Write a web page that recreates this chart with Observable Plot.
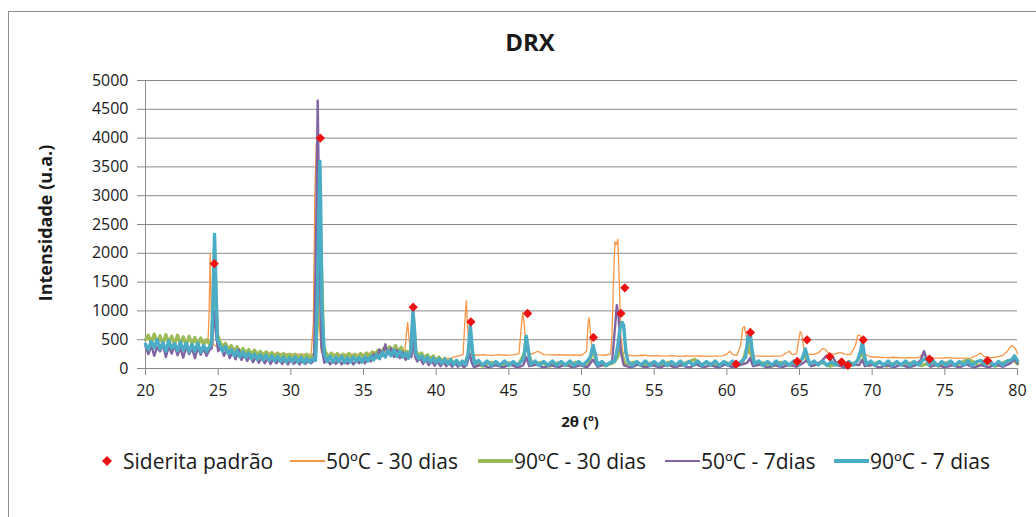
<!DOCTYPE html>
<html>
<head>
<meta charset="utf-8">
<script src="https://cdn.jsdelivr.net/npm/d3@7"></script>
<script src="https://cdn.jsdelivr.net/npm/@observablehq/plot@0.6"></script>
<style>
  body { margin: 0; background: #fff; font-family: "Open Sans", sans-serif; color: #1a1a1a; }
  #wrap { position: relative; width: 1036px; height: 517px; overflow: hidden; background: #fff; }
  #frame { position: absolute; left: 8px; top: 11px; width: 1100px; height: 600px; border: 1px solid #8c8c8c; box-sizing: border-box; }
  #chart { position: absolute; left: 0; top: 0; }
  #title { position: absolute; left: 0; width: 1060px; top: 27px; text-align: center; font-weight: bold; font-size: 24px; line-height: 30px; }
  #ylabel { position: absolute; left: 45px; top: 223px; transform: translate(-50%, -50%) rotate(-90deg); font-weight: bold; font-size: 18px; white-space: nowrap; }
  #xlabel { position: absolute; left: 580px; top: 421px; transform: translate(-50%, -50%); font-weight: bold; font-size: 15px; white-space: nowrap; }
  .li { position: absolute; top: 461px; transform: translateY(-50%); display: flex; align-items: center; font-size: 21px; white-space: nowrap; color: #1a1a1a; }
  .sw { display: inline-block; width: 35px; margin-right: 1px; }
</style>
</head>
<body>
<div id="wrap">
  <div id="frame"></div>
  <div id="chart"></div>
  <div id="title">DRX</div>
  <div id="ylabel">Intensidade (u.a.)</div>
  <div id="xlabel">2θ (º)</div>
  <div id="legend"></div>
</div>
<script>
// ---- Data ----
const xTicks = [20, 25, 30, 35, 40, 45, 50, 55, 60, 65, 70, 75, 80];
const yTicks = [0, 500, 1000, 1500, 2000, 2500, 3000, 3500, 4000, 4500, 5000];

const seriesNames = ["Siderita padrão", "50ºC - 30 dias", "90ºC - 30 dias", "50ºC - 7dias", "90ºC - 7 dias"];

// Siderita padrão (reference peaks) [2θ, intensity]
const siderita = [[24.73,1820],[32.03,4000],[38.42,1065],[42.39,810],[46.29,955],[50.82,540],[52.71,957],[52.98,1400],[60.64,76],[61.62,626],[64.84,122],[65.52,497],[67.08,206],[67.9,113],[68.33,55],[69.39,497],[73.95,164],[77.93,134]];

// 50ºC - 30 dias
const s50_30 = [[20.0,500],[20.5,540],[21.0,480],[21.5,530],[22.0,500],[22.5,470],[23.0,520],[23.5,460],[24.0,480],[24.3,470],[24.38,1000],[24.45,2000],[24.52,1000],[24.6,550],[24.7,400],[25.0,380],[25.5,350],[26.0,320],[26.5,300],[27.0,290],[27.5,280],[28.0,270],[28.5,265],[29.0,260],[29.5,255],[30.0,250],[30.5,250],[31.0,245],[31.4,250],[31.55,800],[31.65,3000],[31.75,3900],[31.85,3000],[31.95,800],[32.1,280],[32.5,240],[33.0,250],[33.5,240],[34.0,250],[34.5,245],[35.0,255],[35.5,270],[36.0,300],[36.5,330],[37.0,340],[37.5,320],[37.85,300],[37.95,600],[38.04,800],[38.12,550],[38.25,280],[38.5,260],[39.0,230],[39.5,200],[40.0,180],[40.5,160],[41.0,180],[41.5,220],[41.85,240],[41.95,700],[42.07,1180],[42.17,700],[42.3,250],[42.8,230],[43.3,240],[43.8,225],[44.3,240],[44.8,230],[45.3,235],[45.7,260],[45.85,700],[45.95,970],[46.05,800],[46.2,300],[46.5,240],[47.0,300],[47.4,240],[48.0,235],[48.5,240],[49.0,230],[49.5,235],[50.0,230],[50.35,300],[50.45,800],[50.53,880],[50.65,500],[50.8,250],[51.2,235],[51.6,230],[52.0,250],[52.1,600],[52.2,1500],[52.3,2200],[52.4,2150],[52.5,2240],[52.6,1500],[52.7,600],[52.85,280],[53.2,230],[53.7,220],[54.2,230],[54.7,220],[55.2,225],[55.7,215],[56.2,225],[56.7,210],[57.2,220],[57.7,215],[58.2,220],[58.7,210],[59.2,215],[59.7,220],[60.0,250],[60.2,300],[60.4,240],[60.7,230],[60.95,400],[61.1,700],[61.2,730],[61.35,550],[61.5,260],[61.8,220],[62.3,215],[62.8,210],[63.3,215],[63.8,220],[64.1,270],[64.3,300],[64.5,240],[64.8,260],[64.95,500],[65.05,640],[65.15,600],[65.3,350],[65.5,250],[65.9,240],[66.3,270],[66.6,350],[66.8,330],[67.0,260],[67.4,250],[67.8,280],[68.1,250],[68.5,240],[68.85,400],[69.0,570],[69.15,580],[69.3,500],[69.5,250],[69.9,200],[70.5,195],[71.0,190],[71.5,195],[72.0,185],[72.5,190],[73.0,185],[73.3,200],[73.55,280],[73.8,200],[74.2,185],[74.8,180],[75.3,190],[75.8,175],[76.3,180],[76.8,185],[77.2,230],[77.45,270],[77.7,210],[78.1,185],[78.6,200],[79.0,230],[79.3,300],[79.6,400],[79.85,350],[80.0,250]];

// 90ºC - 30 dias
const s90_30 = [[20.0,500],[20.2,580],[20.4,430],[20.6,600],[20.8,450],[21.0,570],[21.2,420],[21.4,590],[21.6,440],[21.8,560],[22.0,410],[22.2,580],[22.4,430],[22.6,550],[22.8,400],[23.0,560],[23.2,420],[23.4,540],[23.6,390],[23.8,530],[24.0,410],[24.2,500],[24.4,420],[24.55,500],[24.65,1100],[24.75,2100],[24.85,1300],[24.95,600],[25.1,480],[25.3,380],[25.5,440],[25.7,330],[25.9,400],[26.1,300],[26.3,380],[26.5,280],[26.7,350],[26.9,270],[27.1,330],[27.3,250],[27.5,320],[27.7,240],[27.9,300],[28.1,230],[28.3,290],[28.5,220],[28.7,280],[28.9,210],[29.1,270],[29.3,200],[29.5,260],[29.7,200],[29.9,250],[30.1,190],[30.3,250],[30.5,180],[30.7,240],[30.9,190],[31.1,250],[31.3,180],[31.5,240],[31.7,220],[31.85,900],[31.95,1800],[32.05,2100],[32.15,1500],[32.25,400],[32.4,280],[32.6,200],[32.8,270],[33.0,190],[33.2,260],[33.4,180],[33.6,250],[33.8,190],[34.0,260],[34.2,180],[34.4,250],[34.6,190],[34.8,260],[35.0,190],[35.2,270],[35.4,200],[35.6,290],[35.8,230],[36.0,320],[36.2,250],[36.4,350],[36.6,280],[36.8,380],[37.0,300],[37.2,400],[37.4,300],[37.6,370],[37.8,260],[38.0,300],[38.2,250],[38.35,600],[38.45,850],[38.6,300],[38.8,230],[39.0,270],[39.2,180],[39.4,240],[39.6,160],[39.8,220],[40.0,140],[40.2,200],[40.4,120],[40.6,180],[40.8,100],[41.0,160],[41.2,90],[41.4,140],[41.6,80],[41.8,120],[42.0,90],[42.2,250],[42.35,600],[42.5,250],[42.65,90],[43.2,40],[43.8,110],[44.4,50],[45.0,100],[45.6,40],[46.05,250],[46.2,560],[46.35,280],[46.6,60],[47.2,110],[47.8,40],[48.4,100],[49.0,50],[49.6,110],[50.2,40],[50.6,150],[50.8,350],[51.0,120],[51.6,50],[52.2,100],[52.5,200],[52.65,350],[52.8,250],[53.0,60],[53.6,110],[54.2,40],[54.8,100],[55.4,50],[56.0,110],[56.6,40],[57.2,100],[57.8,160],[58.1,60],[58.7,100],[59.3,40],[59.9,110],[60.5,50],[61.1,120],[61.35,350],[61.5,450],[61.65,250],[61.9,60],[62.5,100],[63.1,40],[63.7,110],[64.3,50],[64.9,100],[65.25,180],[65.4,250],[65.55,120],[65.9,50],[66.5,110],[67.1,40],[67.7,100],[68.3,50],[68.9,110],[69.15,200],[69.3,350],[69.45,150],[69.8,50],[70.4,110],[71.0,40],[71.6,100],[72.2,50],[72.8,110],[73.4,50],[74.0,100],[74.6,40],[75.2,110],[75.8,50],[76.3,130],[76.6,150],[76.9,130],[77.3,50],[77.9,100],[78.5,40],[79.1,110],[79.7,150],[80.0,80]];

// 50ºC - 7dias
const s50_7 = [[20.0,380],[20.2,250],[20.4,400],[20.6,220],[20.8,370],[21.0,300],[21.2,410],[21.4,200],[21.6,380],[21.8,260],[22.0,400],[22.2,230],[22.4,360],[22.6,190],[22.8,380],[23.0,250],[23.2,350],[23.4,180],[23.6,360],[23.8,240],[24.0,340],[24.2,220],[24.4,320],[24.55,350],[24.7,1000],[24.85,600],[25.0,300],[25.2,380],[25.4,220],[25.6,330],[25.8,180],[26.0,300],[26.2,160],[26.4,330],[26.6,150],[26.8,250],[27.0,130],[27.2,220],[27.4,110],[27.6,200],[27.8,100],[28.0,190],[28.2,90],[28.4,180],[28.6,80],[28.8,170],[29.0,90],[29.2,160],[29.4,80],[29.6,150],[29.8,70],[30.0,150],[30.2,80],[30.4,140],[30.6,70],[30.8,150],[31.0,80],[31.2,140],[31.4,90],[31.6,150],[31.75,2500],[31.85,4650],[31.95,2500],[32.1,400],[32.3,100],[32.5,160],[32.7,70],[32.9,150],[33.1,80],[33.3,160],[33.5,70],[33.7,150],[33.9,80],[34.1,160],[34.3,70],[34.5,150],[34.7,90],[34.9,170],[35.1,90],[35.3,180],[35.5,120],[35.7,250],[35.9,180],[36.1,330],[36.3,220],[36.5,420],[36.7,250],[36.9,350],[37.1,200],[37.3,320],[37.5,180],[37.7,280],[37.9,150],[38.1,230],[38.3,200],[38.42,500],[38.55,200],[38.7,120],[38.9,180],[39.1,80],[39.3,150],[39.5,60],[39.7,130],[39.9,50],[40.1,120],[40.3,40],[40.5,110],[40.7,40],[40.9,100],[41.1,30],[41.3,90],[41.5,30],[41.7,80],[41.9,20],[42.1,60],[42.3,260],[42.45,100],[42.6,20],[43.1,70],[43.6,15],[44.1,60],[44.6,20],[45.1,70],[45.6,15],[46.0,60],[46.2,200],[46.4,40],[46.9,70],[47.4,15],[47.9,60],[48.4,20],[48.9,70],[49.4,15],[49.9,60],[50.4,20],[50.8,150],[51.1,30],[51.6,70],[52.1,100],[52.3,700],[52.43,1100],[52.55,900],[52.7,300],[52.9,60],[53.4,15],[53.9,70],[54.4,20],[54.9,60],[55.4,15],[55.9,70],[56.4,20],[56.9,60],[57.4,15],[57.9,70],[58.4,20],[58.9,60],[59.4,15],[59.9,70],[60.4,20],[60.9,60],[61.4,100],[61.6,180],[61.8,40],[62.3,70],[62.8,15],[63.3,60],[63.8,20],[64.3,70],[64.8,30],[65.3,100],[65.5,150],[65.8,40],[66.3,80],[66.6,150],[66.85,220],[67.1,150],[67.3,200],[67.6,60],[68.1,20],[68.6,70],[69.1,60],[69.3,150],[69.5,40],[70.0,70],[70.5,15],[71.0,60],[71.5,20],[72.0,70],[72.5,15],[73.0,60],[73.35,150],[73.57,300],[73.75,150],[74.0,30],[74.5,70],[75.0,15],[75.5,60],[76.0,20],[76.5,70],[77.0,15],[77.5,60],[78.0,20],[78.5,70],[79.0,30],[79.5,90],[79.8,160],[80.0,90]];

// 90ºC - 7 dias
const s90_7 = [[20.0,420],[20.2,330],[20.4,470],[20.6,360],[20.8,500],[21.0,340],[21.2,450],[21.4,300],[21.6,480],[21.8,350],[22.0,430],[22.2,310],[22.4,460],[22.6,320],[22.8,440],[23.0,290],[23.2,420],[23.4,300],[23.6,440],[23.8,280],[24.0,400],[24.2,300],[24.4,380],[24.55,420],[24.65,1200],[24.75,2330],[24.85,1400],[24.95,500],[25.1,420],[25.3,300],[25.5,380],[25.7,260],[25.9,330],[26.1,220],[26.3,310],[26.5,200],[26.7,290],[26.9,190],[27.1,270],[27.3,170],[27.5,250],[27.7,160],[27.9,240],[28.1,150],[28.3,230],[28.5,140],[28.7,220],[28.9,130],[29.1,210],[29.3,120],[29.5,200],[29.7,110],[29.9,190],[30.1,120],[30.3,200],[30.5,110],[30.7,190],[30.9,100],[31.1,180],[31.3,110],[31.5,170],[31.7,140],[31.85,1500],[31.95,3000],[32.0,3600],[32.05,2900],[32.15,1000],[32.3,250],[32.5,120],[32.7,210],[32.9,110],[33.1,200],[33.3,120],[33.5,210],[33.7,100],[33.9,190],[34.1,110],[34.3,200],[34.5,120],[34.7,190],[34.9,110],[35.1,200],[35.3,130],[35.5,210],[35.7,150],[35.9,240],[36.1,170],[36.3,280],[36.5,200],[36.7,310],[36.9,220],[37.1,320],[37.3,210],[37.5,300],[37.7,200],[37.9,270],[38.1,180],[38.25,300],[38.4,1000],[38.5,700],[38.6,250],[38.8,170],[39.0,220],[39.2,120],[39.4,200],[39.6,110],[39.8,180],[40.0,100],[40.2,170],[40.4,90],[40.6,160],[40.8,80],[41.0,150],[41.2,70],[41.4,140],[41.6,60],[41.8,130],[42.0,70],[42.2,250],[42.35,740],[42.5,300],[42.65,80],[42.9,140],[43.2,60],[43.5,130],[43.8,50],[44.1,120],[44.4,60],[44.7,130],[45.0,50],[45.3,120],[45.6,60],[45.9,130],[46.05,200],[46.2,560],[46.35,300],[46.5,70],[46.8,130],[47.1,50],[47.4,120],[47.7,60],[48.0,130],[48.3,50],[48.6,120],[48.9,60],[49.2,130],[49.5,50],[49.8,120],[50.1,60],[50.4,130],[50.6,200],[50.8,400],[50.95,250],[51.1,60],[51.4,120],[51.7,50],[52.0,110],[52.3,130],[52.5,400],[52.65,700],[52.8,800],[52.9,750],[53.05,300],[53.2,120],[53.5,50],[53.8,120],[54.1,60],[54.4,130],[54.7,50],[55.0,120],[55.3,60],[55.6,130],[55.9,50],[56.2,120],[56.5,60],[56.8,130],[57.1,50],[57.4,120],[57.7,60],[58.0,130],[58.3,50],[58.6,120],[58.9,60],[59.2,130],[59.5,50],[59.8,120],[60.1,60],[60.4,130],[60.7,50],[61.0,120],[61.3,200],[61.45,550],[61.6,620],[61.75,300],[61.9,80],[62.2,130],[62.5,50],[62.8,120],[63.1,60],[63.4,130],[63.7,50],[64.0,120],[64.3,60],[64.6,130],[64.9,60],[65.2,180],[65.4,340],[65.55,200],[65.7,70],[66.0,130],[66.3,60],[66.6,130],[66.9,50],[67.2,120],[67.5,60],[67.8,130],[68.1,50],[68.4,120],[68.7,60],[69.0,140],[69.2,300],[69.33,470],[69.45,250],[69.6,70],[69.9,130],[70.2,50],[70.5,120],[70.8,60],[71.1,130],[71.4,50],[71.7,120],[72.0,60],[72.3,130],[72.6,50],[72.9,120],[73.2,60],[73.5,150],[73.7,180],[73.9,60],[74.2,130],[74.5,50],[74.8,120],[75.1,60],[75.4,130],[75.7,50],[76.0,120],[76.3,60],[76.6,130],[76.9,50],[77.2,120],[77.5,140],[77.8,60],[78.1,130],[78.4,50],[78.7,120],[79.0,60],[79.3,130],[79.6,150],[79.8,220],[80.0,130]];

// ---- Styling ----
const colors = ["#EE1111", "#F79646", "#9BBB59", "#8064A2", "#4BACC6"];
const widths = [0, 1.3, 3.2, 2.4, 3.4];
const gridColor = "#8a8a8a";

const lineOpts = (i) => ({x: d => d[0], y: d => d[1], stroke: colors[i], strokeWidth: widths[i], strokeLinejoin: "round"});

const chart = Plot.plot({
  width: 1036,
  height: 430,
  marginLeft: 145,
  marginRight: 19,
  marginTop: 80,
  marginBottom: 62,
  style: {fontFamily: "Open Sans", background: "transparent", color: "#1a1a1a", overflow: "visible"},
  x: {domain: [20, 80]},
  y: {domain: [0, 5000]},
  marks: [
    Plot.gridY(yTicks, {stroke: gridColor, strokeOpacity: 1, strokeWidth: 1}),
    Plot.ruleX([20], {stroke: gridColor, strokeWidth: 1}),
    Plot.line(s50_30, lineOpts(1)),
    Plot.line(s90_30, lineOpts(2)),
    Plot.line(s50_7, lineOpts(3)),
    Plot.line(s90_7, lineOpts(4)),
    Plot.dot(siderita, {x: d => d[0], y: d => d[1], symbol: "diamond2", r: 4.2, fill: colors[0], stroke: null}),
    Plot.axisY(yTicks, {tickSize: 8, tickPadding: 9, stroke: gridColor, fill: "#1a1a1a", fontSize: 16, label: null, tickFormat: d => String(d)}),
    Plot.axisX(xTicks, {tickSize: 7, tickPadding: 9, stroke: gridColor, fill: "#1a1a1a", fontSize: 16, label: null})
  ]
});
document.getElementById("chart").appendChild(chart);

// ---- Legend ----
const legend = document.getElementById("legend");
const legendLeft = [101, 290, 478, 665, 834];
const legendWidths = [0, 1.3, 4, 2.5, 4];
seriesNames.forEach((name, i) => {
  const item = document.createElement("div");
  item.className = "li";
  item.style.left = legendLeft[i] + "px";
  if (i === 0) {
    item.innerHTML = `<svg width="12" height="12" style="margin-right:10px"><path d="M6 1 L11 6 L6 11 L1 6 Z" fill="${colors[0]}"/></svg><span>${name}</span>`;
  } else {
    item.innerHTML = `<span class="sw" style="height:${legendWidths[i]}px;background:${colors[i]}"></span><span>${name}</span>`;
  }
  legend.appendChild(item);
});
</script>
</body>
</html>
